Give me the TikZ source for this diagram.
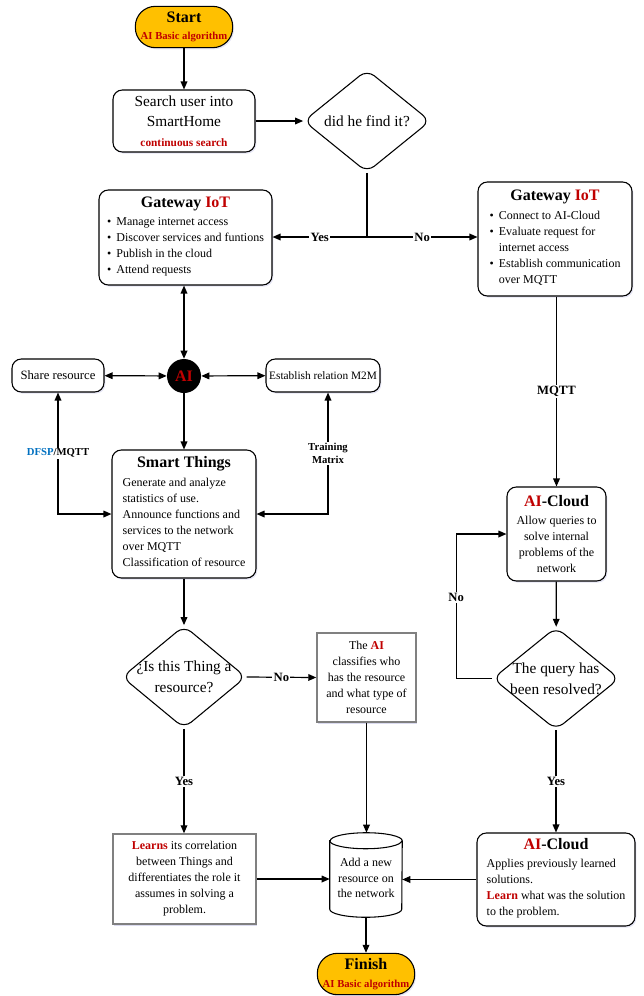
\documentclass[tikz,border=0pt]{standalone}
\usepackage{fontspec}
\setmainfont{Liberation Serif}
\usepackage{xcolor}
\usetikzlibrary{positioning,shapes.geometric,arrows.meta,shadows}
\definecolor{algred}{HTML}{C00000}
\definecolor{pillorange}{HTML}{FFC000}
\definecolor{dfspblue}{HTML}{0070C0}
\newcommand{\red}[1]{\textcolor{algred}{#1}}
\newcommand{\bul}{\makebox[7pt][l]{\textbullet}}
\newcommand{\titlef}{\bfseries\fontsize{12}{14}\selectfont}
\tikzset{
  pill/.style={draw, fill=pillorange, rounded corners=15pt, line width=0.8pt,
    minimum width=73pt, minimum height=31pt, inner sep=1pt, align=center,
    font=\bfseries\fontsize{12}{13}\selectfont,
    drop shadow={shadow xshift=1pt, shadow yshift=-1.2pt, opacity=0.15, fill=blue!40!gray}},
  box/.style={draw, fill=white, rounded corners=7pt, line width=0.8pt, inner sep=2pt,
    align=center, font=\fontsize{9}{12}\selectfont,
    drop shadow={shadow xshift=1pt, shadow yshift=-1.2pt, opacity=0.15, fill=blue!40!gray}},
  sqbox/.style={draw=gray, fill=white, line width=1.1pt, inner sep=2pt,
    align=center, font=\fontsize{9}{12}\selectfont,
    drop shadow={shadow xshift=1pt, shadow yshift=-1.2pt, opacity=0.2, fill=blue!40!gray}},
  decision/.style={diamond, draw, fill=white, rounded corners=7pt, line width=0.8pt,
    inner sep=0pt, minimum width=95pt, minimum height=77pt},
  dtext/.style={align=center, font=\fontsize{11.5}{16}\selectfont},
  lbl/.style={fill=white, inner sep=1pt, font=\bfseries\fontsize{9.5}{11}\selectfont},
  smlbl/.style={fill=white, inner sep=1pt, align=center, font=\bfseries\fontsize{8}{10}\selectfont},
  arr/.style={-{Triangle[length=6pt,width=5pt]}, line width=0.9pt},
  darr/.style={{Triangle[length=6pt,width=5pt]}-{Triangle[length=6pt,width=5pt]}, line width=0.9pt}
}
\begin{document}
\begin{tikzpicture}[x=0.75pt,y=-0.75pt]
  \useasboundingbox (0,0) rectangle (643,996);
  % start and search
  \node[pill] (start) at (184,27) {Start\\[0pt]{\fontsize{8}{9}\selectfont\red{AI Basic algorithm}}};
  \node[box, minimum width=106.5pt, minimum height=46.5pt, font=\fontsize{11.5}{15.5}\selectfont] (search) at (184,121)
    {Search user into\\SmartHome\\[-1pt]{\fontsize{8.5}{10}\selectfont\bfseries\red{continuous search}}};
  \node[decision] (find) at (367,121) {};
  \node[dtext] (findt) at (find) {did he find it?};
  \coordinate (split) at (367,237);
  % gateways
  \node[box, minimum width=129.75pt, minimum height=71.25pt] (gw1) at (185.5,237.5)
    {{\titlef Gateway \red{IoT}}\\[2pt]
     \begin{tabular}[t]{@{}l@{}}\bul Manage internet access\\ \bul Discover services and funtions\\
     \bul Publish in the cloud\\ \bul Attend requests\end{tabular}};
  \node[box, minimum width=115.5pt, minimum height=85.5pt] (gw2) at (555,239)
    {{\titlef Gateway \red{IoT}}\\[2pt]
     \begin{tabular}[t]{@{}l@{}}\bul Connect to AI-Cloud\\ \bul Evaluate request for\\
     \hspace*{7pt}internet access\\ \bul Establish communication\\ \hspace*{7pt}over MQTT\end{tabular}};
  % AI and its neighbours
  \node[circle, fill=black, minimum size=25.5pt, inner sep=0pt, text=algred,
    font=\bfseries\fontsize{12}{12}\selectfont] (ai) at (184,376) {AI};
  \node[box, minimum width=69pt, minimum height=24.75pt, font=\fontsize{9.5}{11}\selectfont] (share) at (58,375.5) {Share resource};
  \node[box, minimum width=85.5pt, minimum height=24.75pt, font=\fontsize{8.5}{10}\selectfont] (m2m) at (323,375.5) {Establish relation M2M};
  \node[box, minimum width=108pt, minimum height=96pt] (st) at (184,514)
    {{\titlef Smart Things}\\[2pt]
     \begin{tabular}[t]{@{}l@{}}Generate and analyze\\ statistics of use.\\ Announce functions and\\
     services to the network\\ over MQTT\\ Classification of resource\end{tabular}};
  % resource question
  \node[decision, minimum width=93pt] (thing) at (184,677) {};
  \node[dtext] (thingt) at (thing) {¿Is this Thing a\\resource?};
  \node[sqbox, minimum width=74.25pt, minimum height=66.75pt] (aicls) at (366.5,677.5)
    {The \red{\textbf{AI}}\\classifies who\\has the resource\\and what type of\\resource};
  \node[sqbox, minimum width=107.25pt, minimum height=67.5pt] (learn) at (184.5,879)
    {\red{\textbf{Learns}} its correlation\\between Things and\\differentiates the role it\\assumes in solving a\\problem.};
  % cylinder
  \node[minimum width=54pt, minimum height=63pt, inner sep=0pt] (add) at (366,875) {};
  \draw[line width=0.8pt, fill=white] ([yshift=-6pt]add.north west) -- ([yshift=6pt]add.south west)
    arc[start angle=180, end angle=360, x radius=27pt, y radius=6pt]
    -- ([yshift=-6pt]add.north east)
    arc[start angle=0, end angle=180, x radius=27pt, y radius=6pt] -- cycle;
  \draw[line width=0.8pt] ([yshift=-6pt]add.north west)
    arc[start angle=180, end angle=360, x radius=27pt, y radius=6pt];
  \node[align=center, font=\fontsize{9}{11.5}\selectfont] (addt) at (366,878) {Add a new\\resource on\\the network};
  \node[pill] (finish) at (366,974) {Finish\\[0pt]{\fontsize{8}{9}\selectfont\red{AI Basic algorithm}}};
  % cloud side
  \node[box, minimum width=74.25pt, minimum height=70.5pt] (cloud1) at (556.5,534)
    {{\titlef \red{AI}-Cloud}\\[1pt]Allow queries to\\solve internal\\problems of the\\network};
  \node[decision] (query) at (556,678.5) {};
  \node[dtext] (queryt) at (query) {The query has\\been resolved?};
  \node[box, minimum width=118.5pt, minimum height=69.75pt] (cloud2) at (556,879.5)
    {{\titlef \red{AI}-Cloud}\\[1pt]
     \begin{tabular}[t]{@{}l@{}}Applies previously learned\\ solutions.\\
     \red{\textbf{Learn}} what was the solution\\ to the problem.\end{tabular}};
  % connectors
  \draw[arr] (start) -- (search);
  \draw[arr] (search) -- (find);
  \draw[line width=0.9pt] (find.south) -- (split);
  \draw[arr] (split) -- node[lbl]{Yes} (gw1.east |- split);
  \draw[arr] (split) -- node[lbl]{No} (gw2.west |- split);
  \draw[darr] (ai.north |- gw1.south) -- (ai.north);
  \draw[darr] (ai) -- (share);
  \draw[darr] (ai) -- (m2m);
  \draw[arr] (ai) -- (st);
  \draw[darr] (share.south) |- node[smlbl, pos=0.25]{\textcolor{dfspblue}{DFSP}/MQTT} (st.west);
  \draw[darr] ([xshift=3.75pt]m2m.south) |- node[smlbl, pos=0.25]{Training\\Matrix} (st.east);
  \draw[arr] (st) -- (thing);
  \draw[arr] (thing.east) -- node[lbl]{No} (aicls.west);
  \draw[arr] (aicls.south) -- (aicls.south |- add.north);
  \draw[arr] (thing.south) -- node[lbl]{Yes} (learn.north -| thing.south);
  \draw[arr] (learn.east) -- (add.west |- learn.east);
  \draw[arr] (cloud2.west) -- (add.east |- cloud2.west);
  \draw[arr] (add.south) -- (finish.north -| add.south);
  \draw[arr] (gw2.south -| cloud1.north) -- node[lbl]{MQTT} (cloud1.north);
  \draw[arr] (cloud1) -- (query);
  \draw[arr] (query.south) -- node[lbl]{Yes} (cloud2.north);
  \draw[arr] (query.west) -- ++(-36,0) |- node[lbl, pos=0.28]{No} (cloud1.west);
\end{tikzpicture}
\end{document}
